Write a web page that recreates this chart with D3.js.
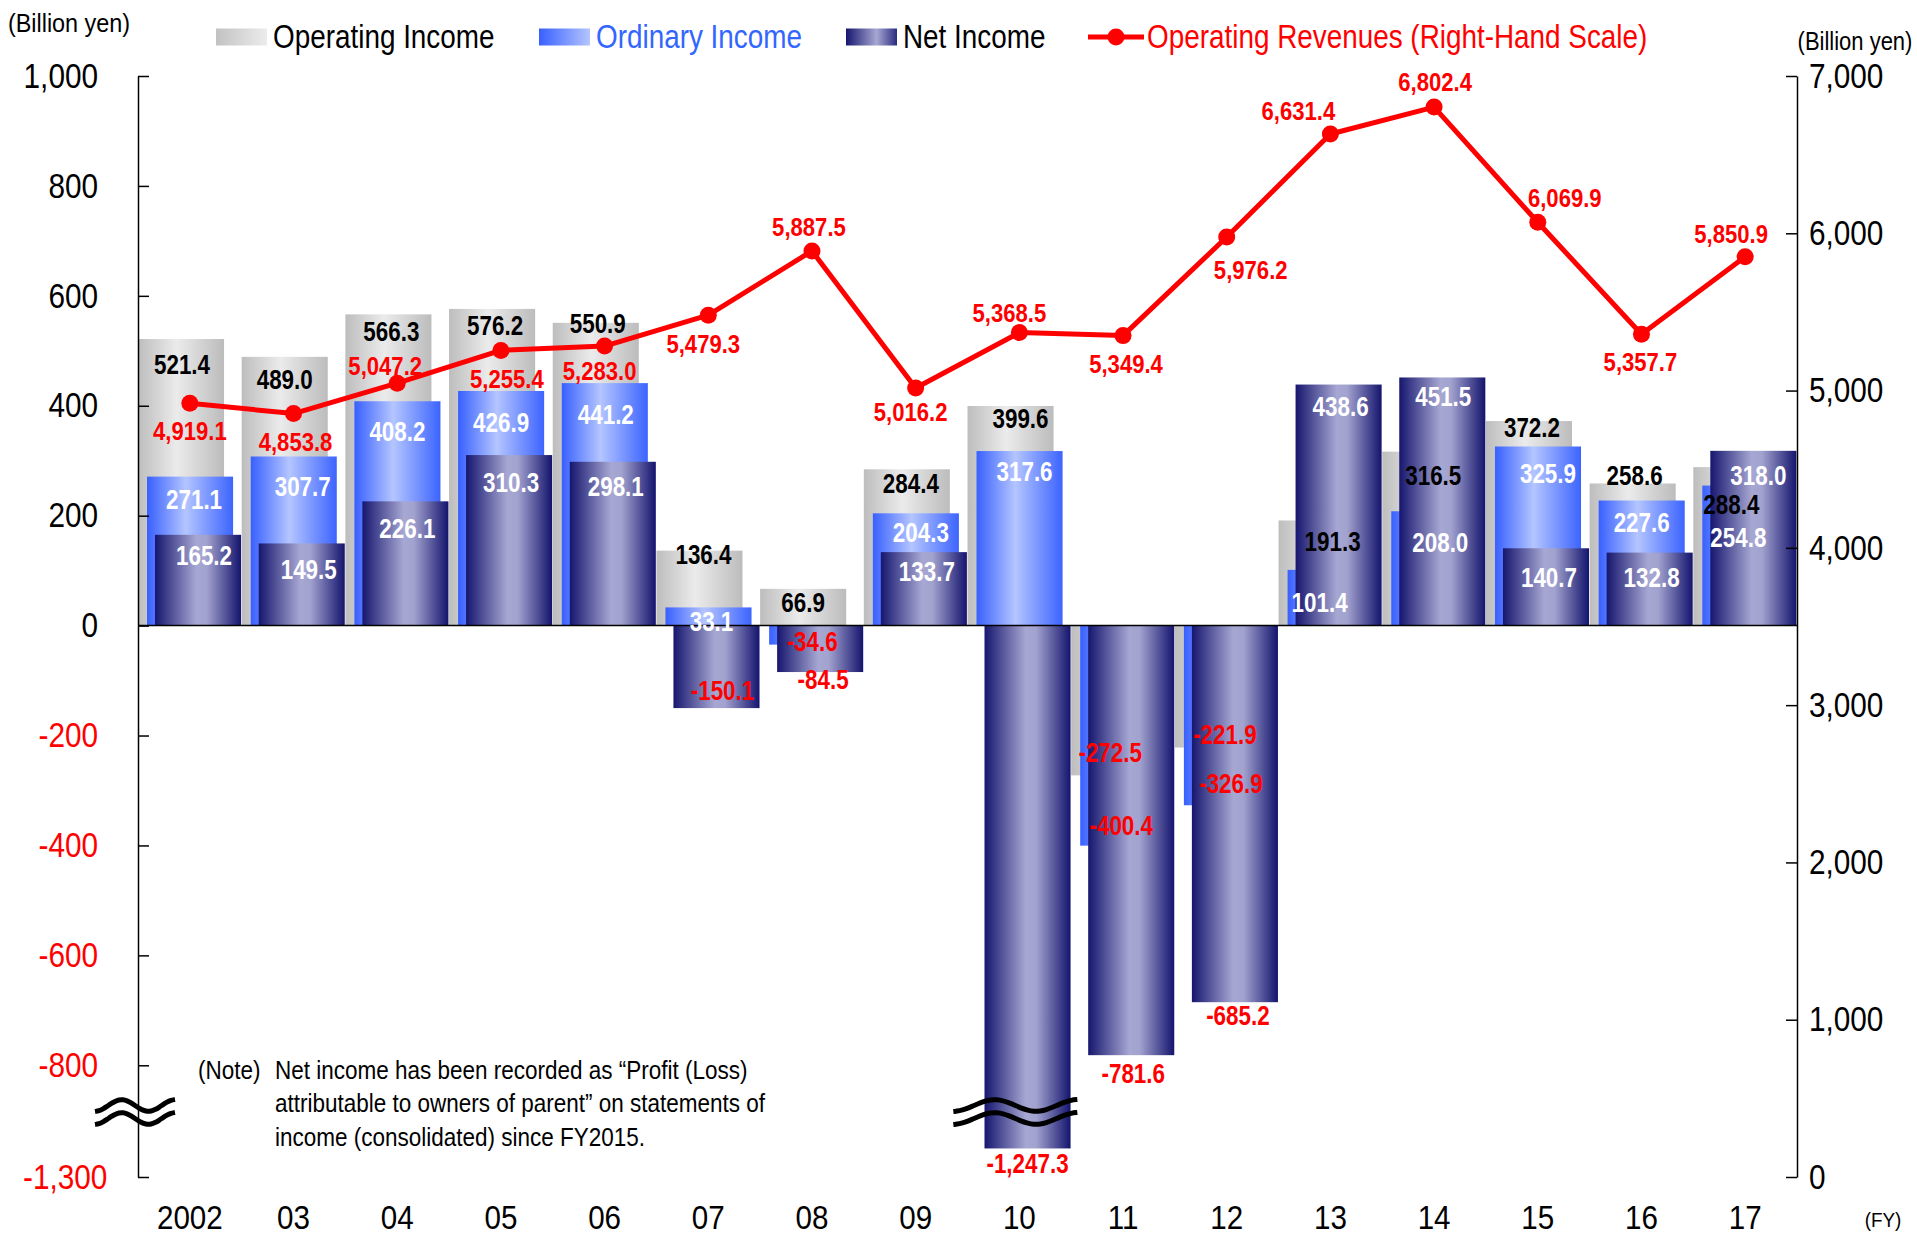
<!DOCTYPE html>
<html>
<head>
<meta charset="utf-8">
<script src="https://cdn.jsdelivr.net/npm/d3@7"></script>
<style>
  body { margin: 0; background: #fff; }
  text { font-family: "Liberation Sans", Arial, sans-serif; }
</style>
</head>
<body>
<script>
// ---- data (billion yen) ----
var years = ["2002", "03", "04", "05", "06", "07", "08", "09", "10", "11", "12", "13", "14", "15", "16", "17"];
var operatingIncome = [521.4, 489.0, 566.3, 576.2, 550.9, 136.4, 66.9, 284.4, 399.6, -272.5, -221.9, 191.3, 316.5, 372.2, 258.6, 288.4];
var ordinaryIncome = [271.1, 307.7, 408.2, 426.9, 441.2, 33.1, -34.6, 204.3, 317.6, -400.4, -326.9, 101.4, 208.0, 325.9, 227.6, 254.8];
var netIncome = [165.2, 149.5, 226.1, 310.3, 298.1, -150.1, -84.5, 133.7, -1247.3, -781.6, -685.2, 438.6, 451.5, 140.7, 132.8, 318.0];
var operatingRevenues = [4919.1, 4853.8, 5047.2, 5255.4, 5283.0, 5479.3, 5887.5, 5016.2, 5368.5, 5349.4, 5976.2, 6631.4, 6802.4, 6069.9, 5357.7, 5850.9];
var leftTicks = [1000, 800, 600, 400, 200, 0, -200, -400, -600, -800, -1300];
var rightTicks = [0, 1000, 2000, 3000, 4000, 5000, 6000, 7000];

// label nudges in px [dx, dy] from the bar end / point, as placed in the original
var opNudge = [[1,26],[0,23],[3,17],[3,17],[2,1],[4,4],[0,14],[4,14],[10,13],[-4,-23],[7,-13],[11,21],[8,24],[3,7],[2,-8],[-5,38]];
var ordNudge = [[4,23],[9,30],[0,30],[0,32],[1,32],[3,14],[0,-3],[5,19],[5,21],[-2,-20],[4,-22],[-11,33],[6,31],[10,27],[0,22],[-7,52]];
var netNudge = [[6,21],[7,26],[2,27],[2,28],[3,25],[6,-17],[3,8],[3,20],[0,15],[2,19],[3,14],[2,22],[1,19],[3,29],[2,25],[5,25]];
var revNudge = [[0,28],[2,28],[-12,-17],[6,28],[-5,25],[-5,29],[-3,-24],[-5,24],[-10,-20],[3,28],[24,33],[-32,-23],[1,-25],[27,-24],[-1,28],[-14,-23]];

var W = 1917, H = 1236;
var plot = {left: 138, right: 1797, top: 76, bottom: 1177};
var breakY = 1112;
var red = "#ff0000";

var loc = d3.formatLocale({decimal: ".", thousands: ",", grouping: [3], currency: ["", ""], minus: "-"});
var fmtTick = loc.format(",");
var fmtVal = loc.format(",.1f");

// squeeze text horizontally around its x anchor (no narrow font installed)
function narrow(sel, s) {
    sel.each(function() {
        var t = d3.select(this);
        var x0 = +t.attr("x") || 0;
        t.attr("transform", "translate(" + x0 + ",0) scale(" + s + ",1) translate(" + (-x0) + ",0)");
    });
}

var svg = d3.select("body")
    .append("svg")
    .attr("width", W)
    .attr("height", H)

var defs = svg.append("defs");
function addGrad(id, stops) {
    var g = defs.append("linearGradient").attr("id", id)
        .attr("x1", "0").attr("y1", "0").attr("x2", "1").attr("y2", "0");
    stops.forEach(function(s) {
        g.append("stop").attr("offset", s[0]).attr("stop-color", s[1]);
    });
}
addGrad("gGray", [[0, "#bdbdbd"], [0.45, "#ebebeb"], [1, "#bcbcbc"]]);
addGrad("gBlue", [[0, "#3860ff"], [0.45, "#b4c5ff"], [1, "#3c64ff"]]);
addGrad("gNavy", [[0, "#16166f"], [0.48, "#a7a7d3"], [0.6, "#a2a2cf"], [1, "#14146e"]]);
addGrad("lgGray", [[0, "#c2c2c2"], [1, "#ececec"]]);
addGrad("lgBlue", [[0, "#3860ff"], [1, "#b4c5ff"]]);
addGrad("lgNavy", [[0, "#16166f"], [0.6, "#a7a7d3"], [1, "#2a2a80"]]);

// ---- scales ----
var x = d3.scaleBand().domain(years).range([plot.left, plot.right]);
var bw = x.bandwidth();
var barW = bw * 0.83;

// left scale has a break between -885 and -1180
var yL = d3.scaleLinear()
    .domain([-1300, -1180, -885, 1000])
    .range([plot.bottom, breakY, breakY, plot.top]);
var yR = d3.scaleLinear().domain([0, 7000]).range([plot.bottom, plot.top]);

// ---- bars ----
var series = [
    {values: operatingIncome, off: 0, fill: "url(#gGray)"},
    {values: ordinaryIncome, off: bw * 0.087, fill: "url(#gBlue)"},
    {values: netIncome, off: bw * 0.164, fill: "url(#gNavy)"}
];
series.forEach(function(s) {
    svg.append("g")
        .selectAll("rect")
        .data(s.values)
        .join("rect")
        .attr("x", function(d, i) { return x(years[i]) + s.off; })
        .attr("width", barW)
        .attr("y", function(d) { return Math.min(yL(d), yL(0)); })
        .attr("height", function(d) { return Math.abs(yL(d) - yL(0)); })
        .attr("fill", s.fill)
});

// zero line
svg.append("line")
    .attr("x1", plot.left).attr("x2", plot.right)
    .attr("y1", yL(0)).attr("y2", yL(0))
    .attr("stroke", "#000").attr("stroke-width", 1.5)

// break marks (wavy double lines)
function wave(cx, cy, w) {
    var pts = d3.range(0, 1.0001, 0.05).map(function(t) {
        return [cx - w / 2 + t * w, cy + 6 * Math.cos(3 * Math.PI * t)];
    });
    return d3.line().curve(d3.curveBasis)(pts);
}
var breakMarks = [
    {cx: plot.left - 3, w: 80},
    {cx: x("10") + bw / 2 - 4, w: 124}
];
breakMarks.forEach(function(b) {
    [-6.5, 6.5].forEach(function(dy) {
        svg.append("path")
            .attr("d", wave(b.cx, breakY + dy, b.w))
            .attr("fill", "none").attr("stroke", "#000").attr("stroke-width", 5)
    });
});

// ---- axes ----
var axL = svg.append("g")
    .attr("transform", "translate(" + plot.left + ",0)")
    .call(d3.axisLeft(yL).tickValues(leftTicks).tickSize(-11).tickSizeOuter(0).tickPadding(40).tickFormat(fmtTick));
var axR = svg.append("g")
    .attr("transform", "translate(" + plot.right + ",0)")
    .call(d3.axisRight(yR).tickValues(rightTicks).tickSize(-11).tickSizeOuter(0).tickPadding(12).tickFormat(fmtTick));
[axL, axR].forEach(function(a) {
    a.attr("font-family", null).attr("font-size", null);
    a.select(".domain").attr("stroke", "#000").attr("stroke-width", 1.5);
    a.selectAll(".tick line").attr("stroke", "#000").attr("stroke-width", 1.5);
    a.selectAll(".tick text").attr("font-size", 35).attr("fill", "#000").call(narrow, 0.85);
});
axL.selectAll(".tick text")
    .attr("fill", function(d) { return d < 0 ? red : "#000"; })
    .attr("dx", function(d) { return d === -1300 ? 11 : 0; });

svg.append("g")
    .selectAll("text")
    .data(years)
    .join("text")
    .attr("x", function(d) { return x(d) + bw / 2; })
    .attr("y", 1217)
    .attr("text-anchor", "middle")
    .attr("dominant-baseline", "central")
    .attr("font-size", 34)
    .text(function(d) { return d; })
    .call(narrow, 0.87)

svg.append("text").attr("x", 69).attr("y", 23).attr("text-anchor", "middle")
    .attr("dominant-baseline", "central").attr("font-size", 26).text("(Billion yen)").call(narrow, 0.9);
svg.append("text").attr("x", 1855).attr("y", 42).attr("text-anchor", "middle")
    .attr("dominant-baseline", "central").attr("font-size", 25).text("(Billion yen)").call(narrow, 0.88);
svg.append("text").attr("x", 1883).attr("y", 1220).attr("text-anchor", "middle")
    .attr("dominant-baseline", "central").attr("font-size", 21).text("(FY)").call(narrow, 0.9);

// ---- revenue line ----
var cx = function(d, i) { return x(years[i]) + bw / 2; };
svg.append("path")
    .datum(operatingRevenues)
    .attr("d", d3.line().x(cx).y(function(d) { return yR(d); }))
    .attr("fill", "none").attr("stroke", red).attr("stroke-width", 5)
    .attr("stroke-linejoin", "round")
svg.append("g")
    .selectAll("circle")
    .data(operatingRevenues)
    .join("circle")
    .attr("cx", cx).attr("cy", function(d) { return yR(d); })
    .attr("r", 8.5).attr("fill", red)

// ---- value labels ----
function labels(values, off, nudge, posColor, size, squeeze, yScale) {
    svg.append("g")
        .selectAll("text")
        .data(values)
        .join("text")
        .attr("x", function(d, i) { return x(years[i]) + off + nudge[i][0]; })
        .attr("y", function(d, i) { return yScale(d) + nudge[i][1]; })
        .attr("text-anchor", "middle")
        .attr("dominant-baseline", "central")
        .attr("font-weight", "bold")
        .attr("font-size", size)
        .attr("fill", function(d) { return d < 0 ? red : posColor; })
        .text(function(d) { return fmtVal(d); })
        .call(narrow, squeeze)
}
labels(operatingIncome, barW / 2, opNudge, "#000", 27, 0.83, yL);
labels(ordinaryIncome, bw * 0.087 + barW / 2, ordNudge, "#fff", 27, 0.83, yL);
labels(netIncome, bw * 0.164 + barW / 2, netNudge, "#fff", 27, 0.83, yL);
labels(operatingRevenues, bw / 2, revNudge, red, 26, 0.85, yR);

// ---- legend ----
var legend = svg.append("g").attr("font-size", 34);
[
    {x: 216, fill: "url(#lgGray)", label: "Operating Income", color: "#000"},
    {x: 539, fill: "url(#lgBlue)", label: "Ordinary Income", color: "#3366ff"},
    {x: 846, fill: "url(#lgNavy)", label: "Net Income", color: "#000"}
].forEach(function(l) {
    legend.append("rect").attr("x", l.x).attr("y", 28.5).attr("width", 51).attr("height", 17).attr("fill", l.fill);
    legend.append("text").attr("x", l.x + 57).attr("y", 37).attr("dominant-baseline", "central")
        .attr("fill", l.color).text(l.label).call(narrow, 0.82);
});
legend.append("line").attr("x1", 1088).attr("x2", 1144).attr("y1", 37).attr("y2", 37)
    .attr("stroke", red).attr("stroke-width", 5);
legend.append("circle").attr("cx", 1116).attr("cy", 37).attr("r", 8.5).attr("fill", red);
legend.append("text").attr("x", 1147).attr("y", 37).attr("dominant-baseline", "central")
    .attr("fill", red).text("Operating Revenues (Right-Hand Scale)").call(narrow, 0.82);

// ---- note ----
var note = svg.append("g").attr("font-size", 25);
note.append("text").attr("x", 198).attr("y", 1070).attr("dominant-baseline", "central")
    .text("(Note)").call(narrow, 0.9);
["Net income has been recorded as \u201cProfit (Loss)",
 "attributable to owners of parent\u201d on statements of",
 "income (consolidated) since FY2015."].forEach(function(t, i) {
    note.append("text").attr("x", 275).attr("y", 1070 + i * 33.5)
        .attr("dominant-baseline", "central").text(t).call(narrow, 0.9);
});
</script>
</body>
</html>
